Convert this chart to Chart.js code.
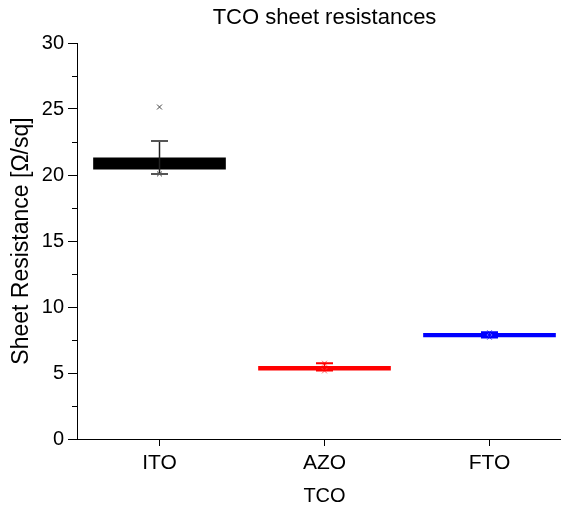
<!DOCTYPE html>
<html lang="en">
  <head>
    <meta charset="UTF-8" />
    <title>TCO sheet resistances</title>
    <script src="https://cdn.jsdelivr.net/npm/chart.js@4.4.0/dist/chart.umd.min.js"></script>
    <style>
      html, body { margin: 0; padding: 0; overflow: hidden; background: #fff; }
    </style>
  </head>
  <body>
    <canvas id="myChart" width="577" height="508"></canvas>

    <script>
      // values
      const categories = ['ITO', 'AZO', 'FTO'];
      const boxLow = [20.45, 5.22, 7.74];
      const boxHigh = [21.3, 5.5, 8.0];
      const whiskerLow = [20.08, 5.18, 7.68];
      const whiskerHigh = [22.58, 5.74, 8.08];
      const markerCat = ['ITO', 'ITO', 'AZO', 'AZO', 'FTO', 'FTO'];
      const markerVal = [25.15, 20.08, 5.74, 5.16, 8.06, 7.7];

      const boxColors = ['#000000', '#ff0000', '#0000ff'];
      const whiskerColors = ['#222222', '#ff0000', '#0000ff'];
      const capColors = ['#555555', '#ff0000', '#0000ff'];
      const markerColors = ['#444444', '#444444', '#ff6666', '#ff6666', '#6666ff', '#6666ff'];

      const FONT = 'Liberation Sans, Arial, sans-serif';

      // whiskers + minor y ticks, drawn with the chart's own scales
      const extras = {
        id: 'extras',
        afterDatasetsDraw(chart) {
          const ctx = chart.ctx;
          const xs = chart.scales.x, ys = chart.scales.y;
          ctx.save();
          categories.forEach((c, i) => {
            const x = xs.getPixelForValue(i);
            const yLo = ys.getPixelForValue(whiskerLow[i]);
            const yHi = ys.getPixelForValue(whiskerHigh[i]);
            ctx.strokeStyle = whiskerColors[i];
            ctx.lineWidth = 1.5;
            ctx.beginPath();
            ctx.moveTo(x, yLo);
            ctx.lineTo(x, yHi);
            ctx.stroke();
            ctx.strokeStyle = capColors[i];
            ctx.lineWidth = 2;
            ctx.beginPath();
            ctx.moveTo(x - 8.5, yHi); ctx.lineTo(x + 8.5, yHi);
            ctx.moveTo(x - 8.5, yLo); ctx.lineTo(x + 8.5, yLo);
            ctx.stroke();
          });
          ctx.restore();
        },
        afterDraw(chart) {
          const ctx = chart.ctx;
          const ys = chart.scales.y;
          const left = chart.chartArea.left;
          ctx.save();
          ctx.strokeStyle = '#000';
          ctx.lineWidth = 1;
          for (let v = 2.5; v < 30; v += 5) {
            const y = Math.round(ys.getPixelForValue(v)) + 0.5;
            ctx.beginPath();
            ctx.moveTo(left - 5, y);
            ctx.lineTo(left, y);
            ctx.stroke();
          }
          ctx.restore();
        }
      };

      const ctx = document.getElementById('myChart').getContext('2d');
      const myChart = new Chart(ctx, {
        type: 'bar',
        data: {
          labels: categories,
          datasets: [
            {
              label: 'box',
              data: categories.map((c, i) => [boxLow[i], boxHigh[i]]),
              backgroundColor: boxColors,
              borderWidth: 0,
              barThickness: 132,
              order: 2
            },
            {
              type: 'line',
              label: 'markers',
              data: markerCat.map((c, i) => ({ x: c, y: markerVal[i] })),
              showLine: false,
              pointStyle: 'crossRot',
              pointRadius: 3.5,
              pointBorderWidth: 1,
              pointBorderColor: markerColors,
              pointBackgroundColor: markerColors,
              order: 1
            }
          ]
        },
        options: {
          responsive: false,
          animation: false,
          layout: { padding: 0 },
          plugins: {
            legend: { display: false },
            tooltip: { enabled: false },
            title: {
              display: true,
              text: 'TCO sheet resistances',
              fullSize: false,
              color: '#000',
              font: { family: FONT, size: 22, weight: 'normal' },
              padding: { top: 5, bottom: 11.6 }
            }
          },
          scales: {
            x: {
              offset: true,
              grid: {
                offset: false,
                drawOnChartArea: false,
                tickLength: 7,
                tickColor: '#000'
              },
              border: { color: '#000', width: 1 },
              ticks: {
                color: '#000',
                padding: 5,
                font: { family: FONT, size: 21 }
              },
              title: {
                display: true,
                text: 'TCO',
                color: '#000',
                padding: { top: 0, bottom: 0 },
                font: { family: FONT, size: 20 }
              },
              afterFit(scale) { scale.height = 69; }
            },
            y: {
              min: 0,
              max: 30,
              grid: {
                drawOnChartArea: false,
                tickLength: 9,
                tickColor: '#000'
              },
              border: { color: '#000', width: 1 },
              ticks: {
                stepSize: 5,
                color: '#000',
                padding: 4,
                font: { family: FONT, size: 20 }
              },
              title: {
                display: true,
                text: 'Sheet Resistance [Ω/sq]',
                color: '#000',
                padding: { top: 8, bottom: 0 },
                font: { family: FONT, size: 23 }
              },
              afterFit(scale) { scale.width = 77; }
            }
          }
        },
        plugins: [extras]
      });
    </script>
  </body>
</html>
